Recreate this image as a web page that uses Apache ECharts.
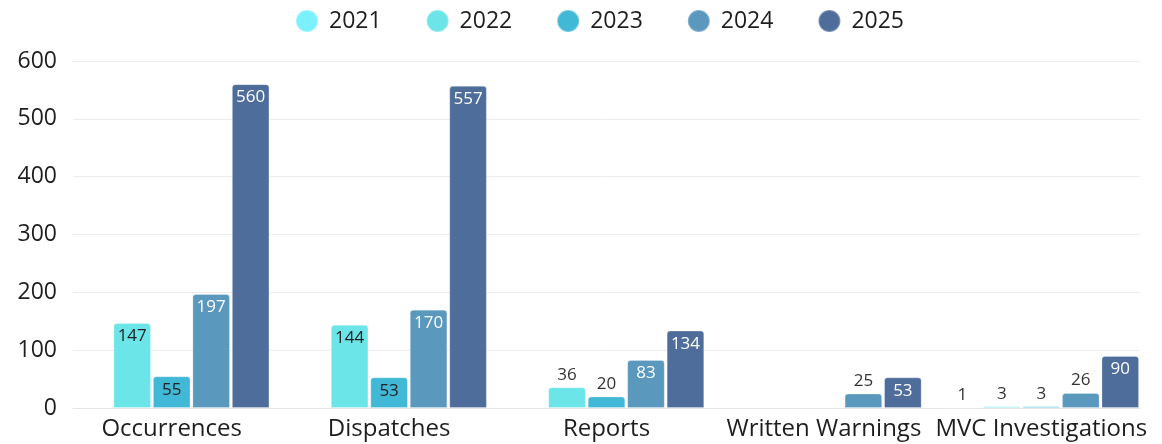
<!DOCTYPE html>
<html>
<head>
<meta charset="utf-8">
<script src="https://cdn.jsdelivr.net/npm/echarts@6/dist/echarts.min.js"></script>
<style>
html,body{margin:0;padding:0;background:#fff;}
#c{width:1162px;height:444px;}
</style>
</head>
<body>
<div id="c"></div>
<script>
const categories = ['Occurrences', 'Dispatches', 'Reports', 'Written Warnings', 'MVC Investigations'];
const years = ['2021', '2022', '2023', '2024', '2025'];
const v2021 = [null, null, null, null, 1];
const v2022 = [147, 144, 36, null, 3];
const v2023 = [55, 53, 20, null, 3];
const v2024 = [197, 170, 83, 25, 26];
const v2025 = [560, 557, 134, 53, 90];
const yTicks = [0, 100, 200, 300, 400, 500, 600];

const colors = ['#7CF1FE', '#6CE5E8', '#41B8D5', '#5A98BE', '#4F6D9A'];
const insideText = ['#222', '#222', '#222', '#fff', '#fff'];
const FONT = '"Open Sans", "Noto Sans", sans-serif';

function buildData(vals, idx) {
  return vals.map(v => {
    if (v == null) return null;
    const inside = v >= 45;
    return {
      value: v,
      label: {
        position: inside ? 'insideTop' : 'top',
        color: inside ? insideText[idx] : '#333',
        distance: inside ? 5 : 4
      }
    };
  });
}

const seriesVals = [v2021, v2022, v2023, v2024, v2025];
const series = seriesVals.map((vals, i) => ({
  name: years[i],
  type: 'bar',
  xAxisIndex: 1,
  yAxisIndex: 1,
  barWidth: 37.6,
  barGap: '5%',
  itemStyle: {
    color: colors[i],
    borderRadius: [3, 3, 0, 0],
    borderColor: 'rgba(255,255,255,0.25)',
    borderWidth: 1
  },
  label: {
    show: true,
    fontFamily: FONT,
    fontSize: 17
  },
  data: buildData(vals, i)
}));

const chart = echarts.init(document.getElementById('c'), null, {renderer: 'canvas'});
chart.setOption({
  animation: false,
  backgroundColor: '#fff',
  color: colors,
  textStyle: {fontFamily: FONT},
  legend: {
    data: years,
    left: 290,
    top: 4,
    icon: 'circle',
    itemWidth: 34,
    itemHeight: 22,
    itemGap: 44,
    textStyle: {fontFamily: FONT, fontSize: 23, color: '#1e1e1e'}
  },
  grid: [
    {left: 73, right: 22, top: 61, bottom: 36},
    {left: 63, right: 12, top: 61, bottom: 36}
  ],
  xAxis: [
    {
      type: 'category', gridIndex: 0, data: categories,
      axisLine: {show: true, lineStyle: {color: '#e6e6e6', width: 1}},
      axisTick: {show: false},
      axisLabel: {show: false}
    },
    {
      type: 'category', gridIndex: 1, data: categories,
      axisLine: {show: false},
      axisTick: {show: false},
      axisLabel: {fontFamily: FONT, fontSize: 24, color: '#1e1e1e', margin: 9, interval: 0}
    }
  ],
  yAxis: [
    {
      type: 'value', gridIndex: 0, min: yTicks[0], max: yTicks[yTicks.length - 1], interval: 100,
      axisLine: {show: false},
      axisTick: {show: false},
      axisLabel: {fontFamily: FONT, fontSize: 23, color: '#1e1e1e', margin: 16},
      splitLine: {lineStyle: {color: '#ececec', width: 1}}
    },
    {
      type: 'value', gridIndex: 1, min: yTicks[0], max: yTicks[yTicks.length - 1], interval: 100,
      show: false,
      splitLine: {show: false}
    }
  ],
  series: series
});
</script>
</body>
</html>
